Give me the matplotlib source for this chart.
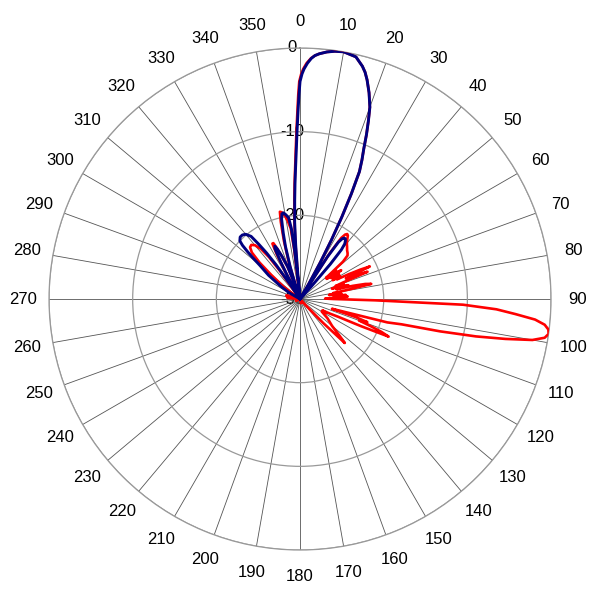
import numpy as np
import matplotlib
matplotlib.use("Agg")
import matplotlib.pyplot as plt
import matplotlib.transforms as mtransforms

plt.rcParams['font.family'] = ['Liberation Sans', 'DejaVu Sans']

# ---- data (angle in degrees, level in dB) ----
blue_angles = [60, 90, 120, 150, 180, 210, 240, 270, 296,
               300, 303, 307, 310, 311, 312, 313, 314, 316, 318, 320, 322, 323, 324, 325, 326, 327,
               330, 331.5, 332.5, 333.5, 334.5, 335.5, 337, 339, 340, 341,
               342, 343, 344.5, 345.7, 347, 348, 349, 350.5, 352, 353, 353.6, 354.1, 354.4,
               354.6, 354.9, 355.4, 356, 356.9, 357.5, 358, 358.6, 359, 359.4, 359.7,
               360, 360.5, 361, 361.8, 362.7, 363.5, 364.5, 366.2, 368, 370, 373, 375, 376, 377,
               378.5, 380, 381, 382, 383, 384, 385, 386, 387, 388, 389, 390, 391,
               392, 393, 394, 395, 396, 397, 398, 399, 400, 401, 402, 403, 420]
blue_db = [-30, -30, -30, -30, -30, -30, -30, -30, -30,
           -28.5, -27.4, -25.3, -23.7, -22.7, -21.6, -20.6, -20.0, -19.7, -19.7, -19.9, -20.5, -21.8, -23.2, -25.0, -28.0, -30,
           -30, -27, -25, -23.3, -23.0, -23.4, -24.4, -25.8, -27.5, -30,
           -28, -26, -23.5, -21.9, -20.2, -19.6, -19.5, -19.8, -20.2, -21.5, -24, -27.5, -30,
           -30, -27, -23.5, -20.8, -18.2, -16.2, -14.5, -12, -9.8, -7.5, -5.6,
           -4.0, -3.1, -2.5, -1.8, -1.2, -0.85, -0.6, -0.3, -0.1, 0, -0.3, -1.2, -1.8, -2.6,
           -4, -5.6, -7.2, -8.8, -10.5, -11.8, -13.2, -16, -19, -22, -25, -28, -30,
           -30, -24, -21.8, -21.2, -21.0, -21.0, -21.2, -21.5, -22.3, -24.5, -28, -30, -30]

red_angles = [150, 170, 190, 220, 250, 270, 275, 285, 290, 296,
              303, 307, 310, 312, 314, 316, 318, 320, 322, 323.5, 324.5, 325.5,
              330.5, 331.5, 332.5, 333.5, 334.5, 335.5, 337, 339, 340, 341,
              342, 343, 344.5, 346, 347, 348, 349.5, 351, 352.5, 353.3, 354.2,
              354.4, 354.7, 355.2, 355.8, 356.7, 357.3, 357.8, 358.4, 358.8, 359.2, 359.5,
              359.8, 360.3, 360.8, 361.6, 362.6, 363.5, 364.5, 366.2, 368, 370, 373, 375, 376, 377,
              378.5, 380, 381, 382, 383, 384, 385, 386, 387, 388, 389, 390, 391,
              392, 393, 394, 395, 396, 397, 398, 400, 402, 404, 406, 407.5, 409, 410,
              411, 412, 413, 414, 415, 416, 417, 418, 419, 420, 421, 422, 423, 424, 425,
              426, 427, 428, 429, 430, 431, 432, 433, 434, 435, 436, 437, 438, 439, 440,
              441, 442, 443, 444, 445, 446, 447, 448, 449, 450,
              451, 452, 453, 454, 455, 456, 457, 458, 459, 460, 461, 462, 463, 464, 465,
              466, 467, 468, 469, 470, 471, 472, 473, 474, 475, 476, 477, 478, 480,
              485, 490, 493, 494.5, 496, 498, 500, 505]
red_db = [-29.5, -29.5, -30, -30, -29.5, -30, -28.5, -28.3, -29, -30,
          -29.5, -27.5, -25.5, -23.5, -22.0, -21.4, -21.3, -21.6, -22.4, -23.8, -26, -30,
          -30, -26.5, -24, -22.6, -22.6, -23.3, -24.5, -26, -28, -30,
          -28, -25.5, -22.8, -20.5, -19.3, -19.4, -19.8, -20.5, -21.5, -24, -30,
          -30, -27, -23.5, -20.8, -18.2, -16.2, -14.5, -12, -9.8, -7.5, -5.6,
          -4.0, -3.1, -2.5, -1.8, -1.2, -0.85, -0.6, -0.3, -0.1, 0, -0.3, -1.2, -1.8, -2.6,
          -4, -5.6, -7.2, -8.8, -10.5, -11.8, -13.2, -16, -19, -22, -25, -28, -30,
          -30, -23.5, -21.2, -20.6, -20.4, -20.5, -20.8, -21.3, -21.6, -21.9, -22.1, -22.3, -23.2, -25,
          -26, -24.5, -26, -25, -24, -25.5, -24.5, -25, -24.5, -25.5, -24.5, -25, -23.5, -22, -20.8,
          -24, -22.5, -21.3, -24.5, -25.5, -24.5, -26, -25, -24, -25.5, -23.5, -22, -21.3, -24, -26,
          -25.5, -26.5, -25, -26, -24.5, -25.5, -24.3, -26, -27, -26,
          -21, -10.5, -6.5, -4.2, -1.8, -0.6, -0.1, 0, -0.4, -1.8, -5, -8.5, -12.8, -17.5, -19.2,
          -24, -26, -23, -21.5, -22.5, -21, -19.5, -18.5, -22, -25, -26, -27, -26.5, -27,
          -26, -25, -23.5, -22.5, -26, -29, -30, -30]

theta_ticks = list(range(0, 360, 10))
theta_labels = [str(a) for a in theta_ticks]
r_ticks = [-30, -20, -10, 0]
r_labels = ["-30", "-20", "-10", "0"]

fig = plt.figure(figsize=(6, 6), dpi=100)
ax = fig.add_axes([0.0817, 0.0833, 0.8367, 0.8367], projection='polar')
ax.set_theta_zero_location('N')
ax.set_theta_direction(-1)
ax.set_ylim(-30, 0)

ax.plot(np.deg2rad(red_angles), red_db, color='#ff0000', lw=1.9, zorder=3)
ax.plot(np.deg2rad(blue_angles), blue_db, color='#000080', lw=2.1, zorder=4)

ax.set_thetagrids(theta_ticks, theta_labels, fontsize=12)
ax.tick_params(axis='x', pad=8.5)
ax.set_yticks(r_ticks)
ax.set_yticklabels([])
ax.xaxis.grid(True, color='#555555', lw=0.6)
ax.yaxis.grid(True, color='#999999', lw=0.9)
ax.spines['polar'].set_color('#999999')
ax.spines['polar'].set_linewidth(0.9)

off = mtransforms.ScaledTranslation(-8 / 100, 0, fig.dpi_scale_trans)
for v, lab in zip(r_ticks, r_labels):
    ax.text(0, v, lab, transform=ax.transData + off, ha='center', va='center',
            fontsize=12, zorder=1)

fig.savefig('out.png', dpi=100)
